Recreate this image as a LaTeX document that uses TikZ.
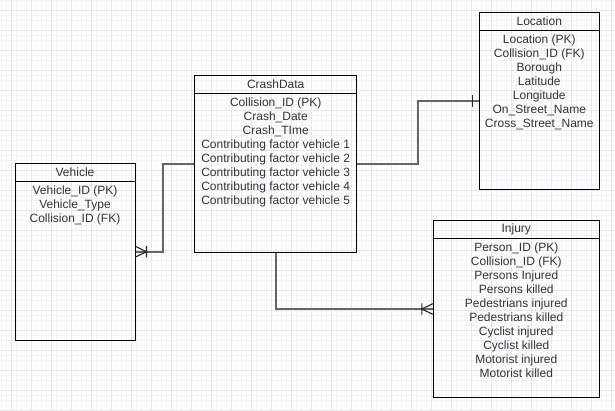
\documentclass[tikz,border=0pt]{standalone}
\usepackage{fontspec}
\setmainfont{Liberation Sans}
\usepackage{xcolor}
\usepackage{tikz}
\usetikzlibrary{positioning}
\definecolor{ERline}{HTML}{666666}
\definecolor{ERtext}{HTML}{333333}
\definecolor{gridmajor}{HTML}{E6E6EE}
\definecolor{gridminor}{HTML}{F5F5F9}

\tikzset{
  entity/.style={draw=black, line width=1pt, minimum width=#1, minimum height=177pt, inner sep=0pt},
  header/.style={draw=black, line width=1pt, minimum width=#1, minimum height=18pt, inner sep=0pt,
    font=\fontsize{12}{14}\selectfont, text=ERtext},
  fields/.style={inner sep=0pt, align=center, font=\fontsize{12}{14}\selectfont, text=ERtext},
  conn/.style={draw=ERline, line width=1.6pt},
  ermark/.style={draw=black!85, line width=1.1pt},
  crowfoot/.pic={\draw[ermark] (0,-5.3) -- (-11,0) -- (0,5.3) (-11,-5.6) -- (-11,5.6);},
  onebar/.pic={\draw[ermark] (-6,-6) -- (-6,6);}
}

\begin{document}
\begin{tikzpicture}[x=1pt, y=-1pt]
  \useasboundingbox (0,0) rectangle (615,410);
  \fill[white] (0,0) rectangle (615,410);
  % grid
  \foreach \gx in {1.5,6.5,...,614} \draw[gridminor, line width=0.6pt] (\gx,0) -- (\gx,410);
  \foreach \gy in {0,5,...,410} \draw[gridminor, line width=0.6pt] (0,\gy) -- (615,\gy);
  \foreach \gx in {11.5,31.5,...,614} \draw[gridmajor, line width=0.8pt] (\gx,0) -- (\gx,410);
  \foreach \gy in {10,30,...,410} \draw[gridmajor, line width=0.8pt] (0,\gy) -- (615,\gy);

  % tables
  \node[entity=120pt] (vehicle) at (75,251.7) {};
  \node[header=120pt, below=0pt of vehicle.north] (vehicle-t) {Vehicle};
  \node[fields, below=4pt of vehicle-t.south] (vehicle-f)
    {Vehicle\_ID (PK)\\Vehicle\_Type\\Collision\_ID (FK)};

  \node[entity=162pt] (crash) at (275.7,163.8) {};
  \node[header=162pt, below=0pt of crash.north] (crash-t) {CrashData};
  \node[fields, below=4pt of crash-t.south] (crash-f)
    {Collision\_ID (PK)\\Crash\_Date\\Crash\_TIme\\Contributing factor vehicle 1\\
     Contributing factor vehicle 2\\Contributing factor vehicle 3\\
     Contributing factor vehicle 4\\Contributing factor vehicle 5};

  \node[entity=120pt] (location) at (539.3,101) {};
  \node[header=120pt, below=0pt of location.north] (location-t) {Location};
  \node[fields, below=4pt of location-t.south] (location-f)
    {Location (PK)\\Collision\_ID (FK)\\Borough\\Latitude\\Longitude\\
     On\_Street\_Name\\Cross\_Street\_Name};

  \node[entity=166pt] (injury) at (516.3,309) {};
  \node[header=166pt, below=0pt of injury.north] (injury-t) {Injury};
  \node[fields, below=4pt of injury-t.south] (injury-f)
    {Person\_ID (PK)\\Collision\_ID (FK)\\Persons Injured\\Persons killed\\
     Pedestrians injured\\Pedestrians killed\\Cyclist injured\\Cyclist killed\\
     Motorist injured\\Motorist killed};

  % relations
  \draw[conn] (crash.west) -- ++(-31,0) |- (vehicle.east);
  \draw[conn] (crash.east) -- ++(61,0) |- (location.west);
  \draw[conn] (crash.south) |- (injury.west);
  \path (vehicle.east) pic[xscale=-1] {crowfoot};
  \path (injury.west) pic {crowfoot};
  \path (location.west) pic {onebar};
\end{tikzpicture}
\end{document}
